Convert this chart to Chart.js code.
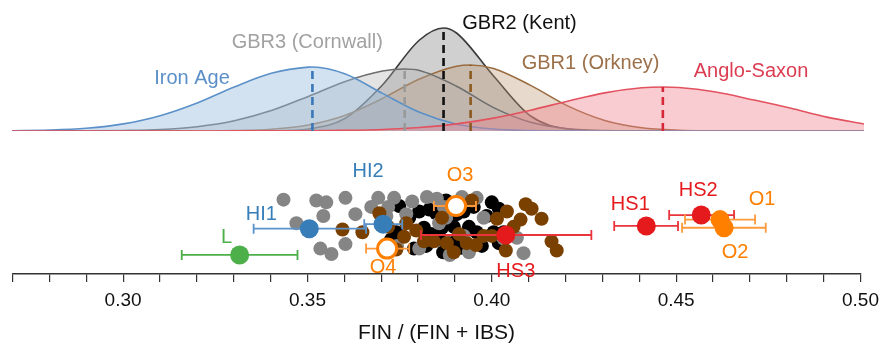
<!DOCTYPE html>
<html>
<head>
<meta charset="utf-8">
<script src="https://cdn.jsdelivr.net/npm/chart.js@4.4.1/dist/chart.umd.min.js"></script>
<style>
  html, body { margin: 0; padding: 0; background: #fff; }
  #wrap { position: relative; width: 886px; height: 346px; overflow: hidden; }
  #dens { position: absolute; left: 0; top: 0; filter: blur(0.5px); }
  #pts { position: absolute; left: 0; top: 140px; }
</style>
</head>
<body>
<div id="wrap">
  <canvas id="dens" width="886" height="140"></canvas>
  <canvas id="pts" width="886" height="206"></canvas>
</div>
<script>
const FONT = "'Liberation Sans', Arial, sans-serif";

// density curves (arbitrary units), sampled on a 0.01 grid
const gridX = [0.27, 0.28, 0.29, 0.30, 0.31, 0.32, 0.33, 0.34, 0.35, 0.36, 0.37, 0.38,
               0.39, 0.40, 0.41, 0.42, 0.43, 0.44, 0.45, 0.46, 0.47, 0.48, 0.49, 0.50];
const angloSaxon = [0, 0, 0, 0, 0, 0, 0.1, 0.1, 0.2, 0.6, 1.5, 3.5, 7.1, 12.9, 20.8, 29.8, 38.1, 43.2, 43.5, 39, 31.2, 23, 13.9, 7];
const ironAge = [0.3, 0.9, 2.7, 7.1, 15.3, 28, 44, 57.7, 63.9, 57, 37.6, 18.7, 6.8, 1.9, 0.4, 0.1, 0, 0, 0, 0, 0, 0, 0, 0];
const gbr3 = [0, 0, 0.1, 0.5, 1.5, 4.3, 10.2, 20.4, 34.6, 49.6, 60, 60.5, 44.8, 23.4, 8.7, 2.3, 0.4, 0.1, 0, 0, 0, 0, 0, 0];
const gbr1 = [0, 0, 0, 0, 0, 0.1, 0.4, 1.8, 6.0, 15.8, 32.5, 52, 64.8, 62.5, 45.6, 25.1, 10.6, 3.3, 0.8, 0.2, 0, 0, 0, 0];
const gbr2 = [0, 0, 0, 0, 0, 0, 0, 0.2, 2.0, 12.8, 46, 91, 98, 55, 15, 2, 0.2, 0, 0, 0, 0, 0, 0, 0];

const curveNames = ['Anglo-Saxon', 'Iron Age', 'GBR3 (Cornwall)', 'GBR1 (Orkney)', 'GBR2 (Kent)'];
const curveValues = [angloSaxon, ironAge, gbr3, gbr1, gbr2];
const curveMeans = [0.4457, 0.3511, 0.3760, 0.3938, 0.3865];
const curvePeaks = [44, 64, 62, 66, 103];

// individual samples: FIN share and vertical jitter
const grayX = [0.3435, 0.3524, 0.3551, 0.3603, 0.3630, 0.3543, 0.3470, 0.3535, 0.3565, 0.3603, 0.3692, 0.3719, 0.3784,
               0.3824, 0.3851, 0.3768, 0.3803, 0.3886, 0.3919, 0.3959, 0.3924, 0.4068, 0.4086, 0.3876, 0.3714, 0.3870,
               0.3673, 0.3735, 0.3938, 0.4032, 0.3743, 0.3857, 0.3978];
const grayJitter = [82, 81, 79, 84, 66, 64, 56, 28, 22, 33, 84, 74, 80, 85, 83, 66, 28, 21, 85, 84, 42, 40, 23, 62, 64, 74,
                    74, 84, 24, 39, 31, 56, 62];
const blackX = [0.3749, 0.3803, 0.3876, 0.3816, 0.3822, 0.3865, 0.3884, 0.3905, 0.3938, 0.4000, 0.4019, 0.3973, 0.3905,
                0.3741, 0.3830, 0.3789, 0.3849, 0.4005, 0.3857, 0.3776, 0.3727, 0.3924, 0.3986, 0.3959, 0.3916,
                0.3868, 0.3835, 0.3951, 0.3897, 0.4032, 0.4019];
const blackJitter = [75, 69, 81, 51, 31, 51, 34, 66, 52, 79, 72, 31, 37, 46, 71, 28, 67, 46, 39, 62, 38, 69, 64, 46, 29,
                     24, 44, 74, 52, 46, 34];
const brownX = [0.3595, 0.3649, 0.3695, 0.3762, 0.3795, 0.3865, 0.3843, 0.3768, 0.3878, 0.3946, 0.3957, 0.4014, 0.4041,
                0.4092, 0.4108, 0.4078, 0.4135, 0.4000, 0.4038, 0.4162, 0.4176, 0.3932, 0.3719, 0.3816, 0.3911,
                0.3978, 0.3741, 0.3897, 0.4059];
const brownJitter = [49, 46, 67, 41, 48, 62, 36, 56, 34, 81, 32, 61, 69, 77, 72, 60, 61, 42, 26, 36, 26, 34, 52, 36, 44,
                     42, 27, 24, 52];

// ancient individuals with intervals
const sampleNames = ['L', 'HI1', 'HI2', 'O3', 'O4', 'HS3', 'HS1', 'HS2', 'O1', 'O2'];
const sampleX = [0.3316, 0.3505, 0.3705, 0.3903, 0.3716, 0.4038, 0.4419, 0.4568, 0.4619, 0.4630];
const sampleJitter = [21, 50, 55, 75, 28, 43, 53, 65, 60, 51];
const sampleLo = [0.3159, 0.3354, 0.3654, 0.3843, 0.3659, 0.3808, 0.4332, 0.4481, 0.4524, 0.4516];
const sampleHi = [0.3473, 0.3659, 0.3757, 0.3957, 0.3776, 0.4270, 0.4505, 0.4657, 0.4714, 0.4743];

const curveStyle = {
  'Anglo-Saxon':     { line: '#e2525f', fill: 'rgba(240,128,140,0.40)', dash: '#d62839', text: '#dc3d52', label: [0.4695, 60] },
  'Iron Age':        { line: '#5b91c8', fill: 'rgba(150,185,222,0.42)', dash: '#3a78b8', text: '#5b8fc7', label: [0.3186, 53] },
  'GBR3 (Cornwall)': { line: '#6f6f6f', fill: 'rgba(175,175,175,0.35)', dash: '#9a9a9a', text: '#a2a2a2', label: [0.3497, 89] },
  'GBR1 (Orkney)':   { line: '#9a6c40', fill: 'rgba(185,145,105,0.35)', dash: '#8b5a20', text: '#9c7048', label: [0.4262, 68] },
  'GBR2 (Kent)':     { line: '#3a3a3a', fill: 'rgba(120,120,120,0.35)', dash: '#111111', text: '#111111', label: [0.4070, 108] }
};

const groupColor = { L: '#4daf4a', HI: '#377eb8', O: '#ff7f00', HS: '#e41a1c' };
const barColor = { L: '#4daf4a', HI: '#5b93cc', O: '#ff9a3c', HS: '#e8343a' };
const hollow = new Set(['O3', 'O4']);
const labelOffset = {
  L: [-13, -17], HI1: [-48, -14], HI2: [-15, -53], O3: [4, -31], O4: [-4, 19],
  HS3: [10, 36], HS1: [-16, -21], HS2: [-3, -25], O1: [42, -20], O2: [11, 25]
};
const groupOf = name => name.replace(/[0-9]/g, '');

function curvePoints(values, mean, peak) {
  const pts = gridX.map((x, i) => ({ x: x, y: values[i] }));
  pts.push({ x: mean, y: peak });
  return pts.sort((a, b) => a.x - b.x);
}

// ---- density panel ----
// dashed mean markers first so they are painted over the filled curves
const densSets = [];
curveNames.forEach((name, i) => {
  densSets.push({
    data: [{ x: curveMeans[i], y: 0 }, { x: curveMeans[i], y: curvePeaks[i] }],
    borderColor: curveStyle[name].dash,
    borderWidth: 2.6,
    borderDash: [8, 5],
    fill: false,
    pointRadius: 0
  });
});
curveNames.forEach((name, i) => {
  const s = curveStyle[name];
  densSets.push({
    data: curvePoints(curveValues[i], curveMeans[i], curvePeaks[i]),
    borderColor: s.line,
    backgroundColor: s.fill,
    borderWidth: 1.6,
    fill: 'origin',
    cubicInterpolationMode: 'monotone',
    pointRadius: 0
  });
});

const curveLabels = {
  id: 'curveLabels',
  afterDatasetsDraw(chart) {
    const { ctx, scales: { x, y } } = chart;
    ctx.save();
    ctx.font = '20px ' + FONT;
    ctx.textAlign = 'center';
    ctx.textBaseline = 'middle';
    curveNames.forEach(name => {
      const s = curveStyle[name];
      ctx.fillStyle = s.text;
      ctx.fillText(name, x.getPixelForValue(s.label[0]), y.getPixelForValue(s.label[1]));
    });
    ctx.restore();
  }
};

new Chart(document.getElementById('dens'), {
  type: 'line',
  data: { datasets: densSets },
  options: {
    responsive: false,
    animation: false,
    devicePixelRatio: 1,
    layout: { padding: { left: 12, right: 22, top: 0, bottom: 9 } },
    plugins: { legend: { display: false }, tooltip: { enabled: false } },
    scales: {
      x: { type: 'linear', min: 0.27, max: 0.50, display: false },
      y: { min: 0, max: 131, display: false }
    }
  },
  plugins: [curveLabels]
});

// ---- sample panel ----
const toPoints = (xs, ys) => xs.map((x, i) => ({ x: x, y: ys[i] }));

const errorBars = {
  id: 'errorBars',
  afterDatasetDraw(chart, args) {
    if (args.index !== 1) return; // after the last cloud layer, below the markers
    const { ctx, scales: { x, y } } = chart;
    ctx.save();
    ctx.lineWidth = 1.8;
    sampleNames.forEach((name, i) => {
      const py = y.getPixelForValue(sampleJitter[i]);
      const x0 = x.getPixelForValue(sampleLo[i]);
      const x1 = x.getPixelForValue(sampleHi[i]);
      ctx.strokeStyle = barColor[groupOf(name)];
      ctx.beginPath();
      ctx.moveTo(x0, py); ctx.lineTo(x1, py);
      ctx.moveTo(x0, py - 5); ctx.lineTo(x0, py + 5);
      ctx.moveTo(x1, py - 5); ctx.lineTo(x1, py + 5);
      ctx.stroke();
    });
    ctx.restore();
  }
};

const sampleLabels = {
  id: 'sampleLabels',
  afterDatasetsDraw(chart) {
    const { ctx, scales: { x, y } } = chart;
    ctx.save();
    ctx.font = '20px ' + FONT;
    ctx.textAlign = 'center';
    ctx.textBaseline = 'middle';
    sampleNames.forEach((name, i) => {
      const off = labelOffset[name];
      ctx.fillStyle = groupColor[groupOf(name)];
      ctx.fillText(name, x.getPixelForValue(sampleX[i]) + off[0], y.getPixelForValue(sampleJitter[i]) + off[1]);
    });
    ctx.restore();
  }
};

// index 0 is painted last, so the ancient samples sit on top of the cloud
new Chart(document.getElementById('pts'), {
  type: 'scatter',
  data: {
    datasets: [
      {
        data: toPoints(sampleX, sampleJitter),
        pointRadius: 9.5,
        pointBackgroundColor: sampleNames.map(n => hollow.has(n) ? '#ffffff' : groupColor[groupOf(n)]),
        pointBorderColor: sampleNames.map(n => groupColor[groupOf(n)]),
        pointBorderWidth: sampleNames.map(n => hollow.has(n) ? 3 : 0)
      },
      { data: toPoints(brownX, brownJitter), pointRadius: 7, pointBackgroundColor: '#7a4000', pointBorderWidth: 0 },
      { data: toPoints(grayX, grayJitter), pointRadius: 7, pointBackgroundColor: '#858585', pointBorderWidth: 0 },
      { data: toPoints(blackX, blackJitter), pointRadius: 7, pointBackgroundColor: '#000000', pointBorderWidth: 0 }
    ]
  },
  options: {
    responsive: false,
    animation: false,
    devicePixelRatio: 1,
    layout: { padding: { left: 12, right: 22, top: 0, bottom: 0 } },
    plugins: { legend: { display: false }, tooltip: { enabled: false } },
    scales: {
      x: {
        type: 'linear',
        min: 0.27,
        max: 0.50,
        border: { display: true, color: '#333333', width: 1.5 },
        grid: { drawOnChartArea: false, drawTicks: true, tickLength: 8, color: '#333333', lineWidth: 1.2 },
        ticks: {
          stepSize: 0.01,
          autoSkip: false,
          maxRotation: 0,
          padding: 7,
          color: '#111111',
          font: { family: FONT, size: 19 },
          callback: v => (Math.round(v * 100) % 5 === 0 ? v.toFixed(2) : '')
        },
        title: {
          display: true,
          text: 'FIN / (FIN + IBS)',
          color: '#111111',
          font: { family: FONT, size: 21 },
          padding: { top: 2, bottom: 0 }
        }
      },
      y: { min: 0, max: 134, display: false }
    }
  },
  plugins: [errorBars, sampleLabels]
});
</script>
</body>
</html>
